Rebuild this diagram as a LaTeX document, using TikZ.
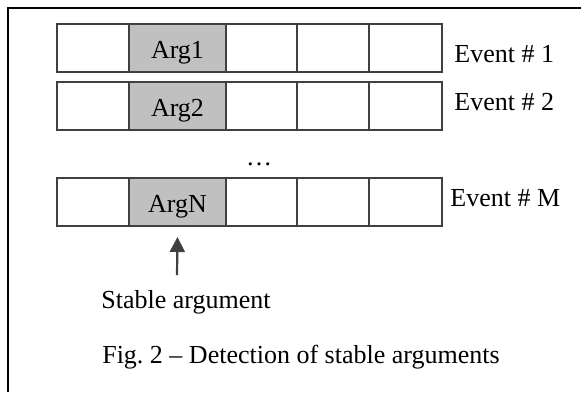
\documentclass[tikz,border=0pt]{standalone}
\usepackage{fontspec}
\setmainfont{Liberation Serif}
\usetikzlibrary{arrows.meta}
\definecolor{lin}{HTML}{404040}
\definecolor{argfill}{HTML}{C0C0C0}
\tikzset{
  cell/.style={draw=lin, line width=1pt, rectangle, inner sep=0pt, outer sep=0pt, minimum height=24pt},
  wcell/.style={cell, fill=white},
  gcell/.style={cell, fill=argfill},
  lbl/.style={inner sep=0pt, font=\fontsize{13}{15}\selectfont, text=black},
}
\begin{document}
\begin{tikzpicture}[x=0.5pt,y=-0.5pt]
\useasboundingbox (0,0) rectangle (581,392);
\fill[white] (0,0) rectangle (581,392);
% frame (top and left edges visible)
\draw[black, line width=1pt] (7.5,392) -- (7.5,8) -- (581,8);
% rows
\foreach \r/\yt/\lab in {1/24/Arg1, 2/82/Arg2, 3/178/ArgN}{
  \node[wcell, minimum width=36pt] (c\r1) at (93,\yt+24) {};
  \node[gcell, minimum width=48.5pt] (c\r2) at (177.5,\yt+24) {};
  \node[wcell, minimum width=35.5pt] (c\r3) at (261.5,\yt+24) {};
  \node[wcell, minimum width=36pt] (c\r4) at (333,\yt+24) {};
  \node[wcell, minimum width=36.5pt] (c\r5) at (405.5,\yt+24) {};
  \node[lbl, anchor=base] (t\r) at (177.5,\yt+34) {\lab};
}
\node[lbl, anchor=base west] (e1) at (454,62) {Event \# 1};
\node[lbl, anchor=base west] (e2) at (454,110) {Event \# 2};
\node[lbl, anchor=base west] (eM) at (450,206) {Event \# M};
\node[lbl, anchor=base] (dots) at (259,165) {\dots};
\node[lbl, anchor=base] (sa) at (186,308) {Stable argument};
\node[lbl, anchor=base] (cap) at (301,363) {Fig.\ 2 -- Detection of stable arguments};
\coordinate (a0) at (177,275);
\draw[lin, line width=1.1pt, -{Triangle[width=7.5pt,length=7.5pt]}] (a0) -- (c32.south |- 0,237);
\end{tikzpicture}
\end{document}
